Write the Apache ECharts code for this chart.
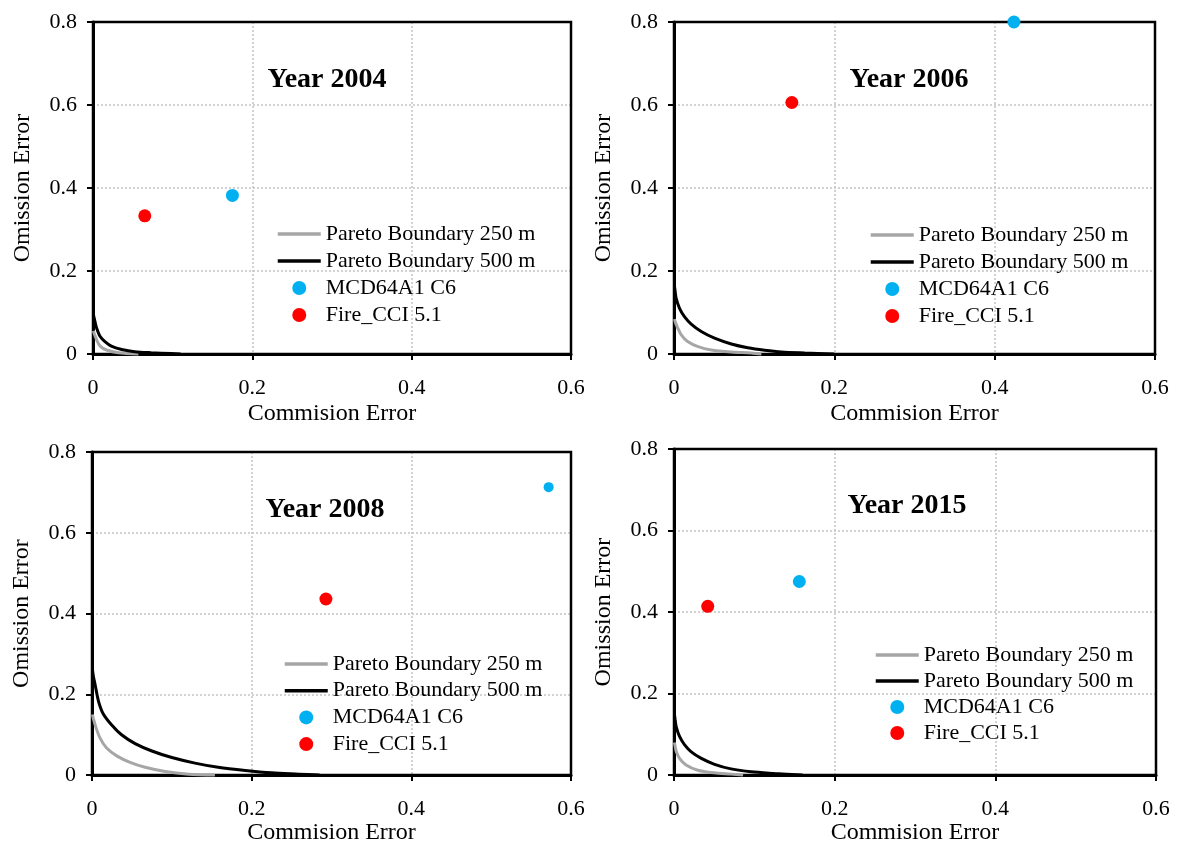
<!DOCTYPE html>
<html><head><meta charset="utf-8">
<script src="https://cdn.jsdelivr.net/npm/echarts@6/dist/echarts.min.js"></script>
<style>html,body{margin:0;padding:0;background:#fff}#c{width:1177px;height:846px}</style>
</head><body><div id="c"></div>
<script>
// ---- data ----
const panelTitles = ['Year 2004', 'Year 2006', 'Year 2008', 'Year 2015'];
const seriesNames = ['Pareto Boundary 250 m', 'Pareto Boundary 500 m', 'MCD64A1 C6', 'Fire_CCI 5.1'];
const xAxisName = 'Commision Error';
const yAxisName = 'Omission Error';
const xTicks = [0, 0.2, 0.4, 0.6];
const yTicks = [0, 0.2, 0.4, 0.6, 0.8];

const mcd64a1 = [[0.175, 0.382], [0.424, 0.800], [0.572, 0.713], [0.156, 0.475]];
const fireCci = [[0.065, 0.333], [0.147, 0.606], [0.293, 0.436], [0.042, 0.414]];

const pareto250_2004 = [[0.0005,0.056],[0.0017,0.048],[0.0046,0.034],[0.009,0.019],[0.017,0.0096],[0.032,0.003],[0.057,0]];
const pareto500_2004 = [[0.0005,0.095],[0.0025,0.078],[0.0046,0.062],[0.009,0.042],[0.015,0.030],[0.023,0.019],[0.036,0.011],[0.0525,0.0055],[0.073,0.003],[0.098,0.001],[0.11,0]];
const pareto250_2006 = [[0.0005,0.084],[0.002,0.075],[0.0048,0.062],[0.009,0.046],[0.017,0.030],[0.030,0.0176],[0.0465,0.0096],[0.0715,0.0048],[0.0965,0.0024],[0.109,0]];
const pareto500_2006 = [[0.0005,0.165],[0.0015,0.150],[0.0027,0.134],[0.0069,0.110],[0.013,0.090],[0.0215,0.072],[0.034,0.054],[0.0506,0.038],[0.0715,0.024],[0.092,0.015],[0.113,0.009],[0.134,0.0048],[0.163,0.0024],[0.2,0]];
const pareto250_2008 = [[0.0005,0.150],[0.0017,0.140],[0.0046,0.120],[0.010,0.092],[0.018,0.0676],[0.031,0.0476],[0.0477,0.0314],[0.0665,0.0193],[0.0916,0.0089],[0.121,0.0024],[0.154,0]];
const pareto500_2008 = [[0.0005,0.262],[0.0017,0.245],[0.0038,0.225],[0.008,0.184],[0.014,0.152],[0.0247,0.124],[0.037,0.0998],[0.054,0.078],[0.075,0.0597],[0.100,0.0435],[0.129,0.0297],[0.158,0.0193],[0.192,0.0114],[0.225,0.0056],[0.259,0.0024],[0.285,0]];
const pareto250_2015 = [[0.0005,0.080],[0.0015,0.070],[0.0027,0.0586],[0.0069,0.041],[0.015,0.0248],[0.0297,0.012],[0.050,0.0055],[0.071,0.0024],[0.086,0]];
const pareto500_2015 = [[0.0005,0.150],[0.0015,0.135],[0.0027,0.119],[0.0069,0.0947],[0.013,0.0747],[0.0215,0.057],[0.034,0.041],[0.0505,0.0265],[0.071,0.0152],[0.096,0.008],[0.125,0.004],[0.16,0]];

const pareto250 = [pareto250_2004, pareto250_2006, pareto250_2008, pareto250_2015];
const pareto500 = [pareto500_2004, pareto500_2006, pareto500_2008, pareto500_2015];

// ---- layout ----
const FONT = '"Liberation Serif", serif';
const grids = [
  {left: 93, top: 22, width: 478, height: 332},
  {left: 674, top: 22, width: 481, height: 332},
  {left: 92, top: 452, width: 479, height: 331},
  {left: 674, top: 449, width: 482, height: 332}
];
const titlePos = [[327, 80], [909, 80], [325, 510], [907, 506]];
const legendPos = [
  {left: 276, top: 223, itemGap: 5},
  {left: 869, top: 224, itemGap: 5},
  {left: 283, top: 653, itemGap: 4.7},
  {left: 874, top: 644, itemGap: 4}
];
const xNameGap = [48, 48, 45, 45];
const lineColors = ['#a6a6a6', '#000000'];

const legendData = seriesNames.map((n, k) => k < 2
  ? {name: n, itemStyle: {opacity: 0, borderWidth: 0}, lineStyle: {width: 3.5, color: lineColors[k]}}
  : {name: n});

const option = {
  animation: false,
  backgroundColor: '#fff',
  grid: grids.map(g => Object.assign({show: true, z: 1, borderColor: '#000', borderWidth: 2.5, backgroundColor: 'transparent'}, g)),
  xAxis: grids.map((g, i) => ({
    type: 'value', gridIndex: i,
    min: xTicks[0], max: xTicks[xTicks.length - 1], interval: xTicks[1] - xTicks[0],
    name: xAxisName, nameLocation: 'middle', nameGap: xNameGap[i],
    nameTextStyle: {fontFamily: FONT, fontSize: 24, color: '#000'},
    axisLine: {show: true, lineStyle: {color: '#000', width: 3}},
    axisTick: {show: true, length: 6, lineStyle: {color: '#000', width: 2}},
    axisLabel: {fontFamily: FONT, fontSize: 22, color: '#000', margin: 23},
    splitLine: {show: true, lineStyle: {type: [2, 2], color: '#c4c4c4', width: 1.5}}
  })),
  yAxis: grids.map((g, i) => ({
    type: 'value', gridIndex: i,
    min: yTicks[0], max: yTicks[yTicks.length - 1], interval: yTicks[1] - yTicks[0],
    name: yAxisName, nameLocation: 'middle', nameGap: 58,
    nameTextStyle: {fontFamily: FONT, fontSize: 24, color: '#000'},
    axisLine: {show: true, lineStyle: {color: '#000', width: 3}},
    axisTick: {show: true, length: 6, lineStyle: {color: '#000', width: 2}},
    axisLabel: {fontFamily: FONT, fontSize: 22, color: '#000', margin: 16},
    splitLine: {show: true, lineStyle: {type: [2, 2], color: '#c4c4c4', width: 1.5}}
  })),
  legend: legendPos.map(p => ({
    orient: 'vertical', left: p.left, top: p.top, itemGap: p.itemGap,
    itemWidth: 43, itemHeight: 14, selectedMode: false, padding: 0,
    data: legendData,
    textStyle: {fontFamily: FONT, fontSize: 22, lineHeight: 22, color: '#000'}
  })),
  graphic: titlePos.map((p, i) => ({
    type: 'text', x: p[0], y: p[1], z: 10,
    style: {text: panelTitles[i], fontFamily: FONT, fontSize: 28, fontWeight: 'bold', fill: '#000', textAlign: 'center', textVerticalAlign: 'middle'}
  })),
  series: []
};

for (let i = 0; i < 4; i++) {
  option.series.push({
    type: 'line', name: seriesNames[0], xAxisIndex: i, yAxisIndex: i, data: pareto250[i],
    symbol: 'none', smooth: 0.3, clip: false, z: 3,
    lineStyle: {color: lineColors[0], width: 3}, itemStyle: {color: lineColors[0]}
  });
  option.series.push({
    type: 'line', name: seriesNames[1], xAxisIndex: i, yAxisIndex: i, data: pareto500[i],
    symbol: 'none', smooth: 0.3, clip: false, z: 3,
    lineStyle: {color: lineColors[1], width: 3}, itemStyle: {color: lineColors[1]}
  });
  option.series.push({
    type: 'scatter', name: seriesNames[2], xAxisIndex: i, yAxisIndex: i, data: [mcd64a1[i]],
    symbolSize: i === 2 ? 10 : 13, clip: false, z: 4, itemStyle: {color: '#00b0f0', opacity: 1}
  });
  option.series.push({
    type: 'scatter', name: seriesNames[3], xAxisIndex: i, yAxisIndex: i, data: [fireCci[i]],
    symbolSize: 13, clip: false, z: 4, itemStyle: {color: '#ff0000', opacity: 1}
  });
}

const chart = echarts.init(document.getElementById('c'), null, {renderer: 'canvas'});
chart.setOption(option);
</script>
</body></html>
